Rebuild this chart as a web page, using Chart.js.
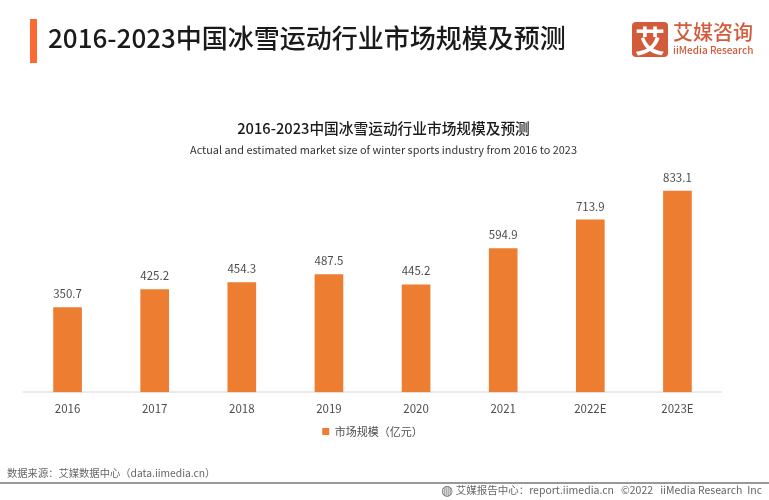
<!DOCTYPE html>
<html>
<head>
<meta charset="utf-8">
<script src="https://cdn.jsdelivr.net/npm/chart.js@4"></script>
<style>
  html, body { margin: 0; padding: 0; background: #fff; }
  body { width: 769px; height: 500px; position: relative; overflow: hidden; font-family: "Noto Sans CJK SC", "Noto Sans", sans-serif; }
  #barCanvas { position: absolute; left: 0; top: 0; }
  .abs { position: absolute; white-space: nowrap; line-height: 1; }
  #accent { left: 30px; top: 19px; width: 7px; height: 44px; background: #fb6a33; }
  #heading { left: 48px; top: 24px; font-size: 26px; font-weight: 500; color: #1a1a1a; }
  #chartTitle { left: 0; width: 767px; text-align: center; top: 121px; font-size: 14.7px; font-weight: 500; color: #1a1a1a; }
  #chartSubtitle { left: 0; width: 767px; text-align: center; top: 144px; font-size: 10.9px; color: #333; }
  #logoBox { left: 632px; top: 22px; width: 36px; height: 35px; border-radius: 4px; background: #d25b3b; color: #fff; font-size: 30px; font-weight: 700; text-align: center; line-height: 35px; }
  #logoCn { left: 673px; top: 22px; font-size: 20px; font-weight: 500; color: #d25b3b; }
  #logoEn { left: 673px; top: 45px; font-size: 10px; font-weight: 500; color: #d25b3b; }
  #source { left: 7px; top: 468px; font-size: 10.3px; color: #666; }
  #rule { left: 0; top: 482px; width: 769px; height: 2px; background: #999; }
  #report { right: 7px; top: 482px; font-size: 10.5px; color: #666; }
  #report .globe { font-size: 14px; vertical-align: -1px; }
</style>
</head>
<body>
<canvas id="barCanvas" width="769" height="500"></canvas>
<div class="abs" id="accent"></div>
<div class="abs" id="heading">2016-2023中国冰雪运动行业市场规模及预测</div>
<div class="abs" id="chartTitle">2016-2023中国冰雪运动行业市场规模及预测</div>
<div class="abs" id="chartSubtitle">Actual and estimated market size of winter sports industry from 2016 to 2023</div>
<div class="abs" id="logoBox">艾</div>
<div class="abs" id="logoCn">艾媒咨询</div>
<div class="abs" id="logoEn">iiMedia Research</div>
<div class="abs" id="source">数据来源：艾媒数据中心（data.iimedia.cn）</div>
<div class="abs" id="rule"></div>
<div class="abs" id="report"><span class="globe">◍</span> 艾媒报告中心：report.iimedia.cn&nbsp;&nbsp;&nbsp;©2022&nbsp;&nbsp;&nbsp;iiMedia Research&nbsp;&nbsp;Inc</div>
<script>
const categories = ['2016', '2017', '2018', '2019', '2020', '2021', '2022E', '2023E'];
const marketSize = [350.7, 425.2, 454.3, 487.5, 445.2, 594.9, 713.9, 833.1];
const seriesName = '市场规模（亿元）';

const fontFamily = '"Noto Sans CJK SC", "Noto Sans", sans-serif';

// value labels above each bar
const valueLabels = {
    id: 'valueLabels',
    afterDatasetsDraw(chart) {
        const ctx = chart.ctx;
        ctx.save();
        ctx.font = '11.5px ' + fontFamily;
        ctx.fillStyle = '#4d4d4d';
        ctx.textAlign = 'center';
        ctx.textBaseline = 'bottom';
        chart.getDatasetMeta(0).data.forEach((bar, i) => {
            ctx.fillText(marketSize[i].toFixed(1), bar.x, bar.y - 8);
        });
        ctx.restore();
    }
};

const ctx = document.getElementById('barCanvas').getContext('2d');
new Chart(ctx, {
    type: 'bar',
    data: {
        labels: categories,
        datasets: [{
            label: seriesName,
            data: marketSize,
            backgroundColor: '#ed7d31',
            barThickness: 28
        }]
    },
    options: {
        responsive: false,
        animation: false,
        layout: { padding: { left: 24, right: 48, top: 175, bottom: 53 } },
        scales: {
            x: {
                grid: { display: false, drawTicks: false },
                border: { color: '#ebebeb', width: 2 },
                ticks: { color: '#4d4d4d', font: { family: fontFamily, size: 11.5 }, padding: 10 }
            },
            y: { display: false, min: 0, max: 900 }
        },
        plugins: {
            legend: {
                position: 'bottom',
                labels: {
                    color: '#4d4d4d',
                    font: { family: fontFamily, size: 11 },
                    boxWidth: 7,
                    boxHeight: 7,
                    padding: 0
                }
            },
            tooltip: { enabled: false }
        }
    },
    plugins: [valueLabels]
});
</script>
</body>
</html>
